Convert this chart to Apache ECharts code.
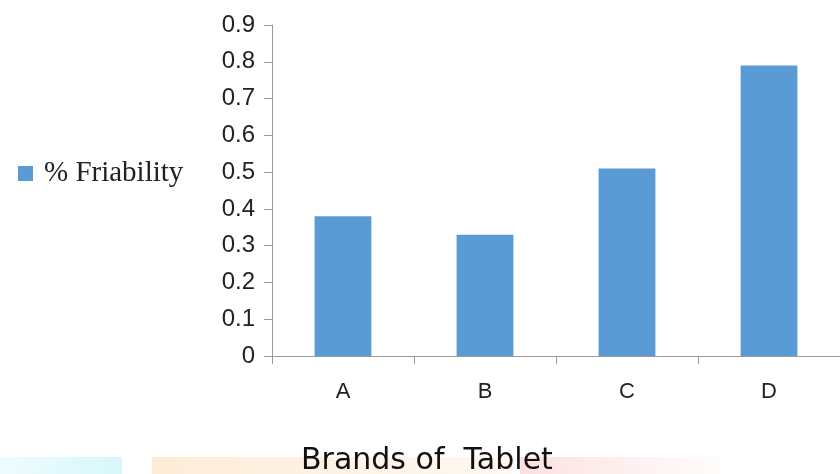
<!DOCTYPE html>
<html>
<head>
<meta charset="utf-8">
<script src="https://cdn.jsdelivr.net/npm/echarts@6/dist/echarts.min.js"></script>
<style>
  html, body { margin: 0; padding: 0; background: #ffffff; }
  #chart { width: 840px; height: 474px; }
</style>
</head>
<body>
<div id="chart"></div>
<script>
// Tablet brands and their measured friability (%)
const brands = ['A', 'B', 'C', 'D'];
const friability = [0.38, 0.33, 0.51, 0.79];
const seriesName = '% Friability';
const axisTitle = 'Brands of  Tablet';

const chart = echarts.init(document.getElementById('chart'), null, { renderer: 'canvas' });

chart.setOption({
  backgroundColor: '#ffffff',
  animation: false,
  legend: {
    orient: 'vertical',
    left: 13,
    top: 154,
    itemWidth: 15,
    itemHeight: 15,
    itemGap: 8,
    icon: 'rect',
    textStyle: { fontFamily: 'Liberation Serif', fontSize: 29, color: '#222', padding: [0, 0, 0, 6] },
    data: [seriesName]
  },
  graphic: [
    // soft coloured bands along the bottom edge
    { type: 'rect', z: -1, shape: { x: 0, y: 457, width: 122, height: 17 },
      style: { fill: { type: 'linear', x: 0, y: 0, x2: 1, y2: 0,
        colorStops: [{ offset: 0, color: 'rgba(120,230,240,0.12)' }, { offset: 1, color: 'rgba(120,230,240,0.3)' }] } } },
    { type: 'rect', z: -1, shape: { x: 152, y: 457, width: 360, height: 17 },
      style: { fill: { type: 'linear', x: 0, y: 0, x2: 1, y2: 0,
        colorStops: [{ offset: 0, color: 'rgba(250,190,120,0.3)' }, { offset: 1, color: 'rgba(250,200,140,0.12)' }] } } },
    { type: 'rect', z: -1, shape: { x: 520, y: 457, width: 200, height: 17 },
      style: { fill: { type: 'linear', x: 0, y: 0, x2: 1, y2: 0,
        colorStops: [{ offset: 0, color: 'rgba(250,150,150,0.3)' }, { offset: 1, color: 'rgba(250,170,170,0.04)' }] } } },
    {
      type: 'text',
      left: 301,
      top: 446,
      style: { text: axisTitle, fontFamily: 'DejaVu Sans', fontSize: 30, fill: '#111' }
    }
  ],
  grid: { left: 272, top: 25, bottom: 118, width: 572, containLabel: false },
  xAxis: {
    type: 'category',
    data: brands,
    boundaryGap: true,
    axisLine: { lineStyle: { color: '#9a9a9a', width: 1 } },
    axisTick: { show: true, alignWithLabel: false, length: 8, lineStyle: { color: '#9a9a9a' } },
    axisLabel: { margin: 25, fontFamily: 'Liberation Sans', fontSize: 22, color: '#222' }
  },
  yAxis: {
    type: 'value',
    min: 0,
    max: 0.9,
    interval: 0.1,
    axisLine: { show: true, lineStyle: { color: '#9a9a9a', width: 1 } },
    axisTick: { show: true, length: 8, lineStyle: { color: '#9a9a9a' } },
    splitLine: { show: false },
    axisLabel: {
      margin: 17,
      fontFamily: 'Liberation Sans',
      fontSize: 24,
      color: '#222',
      formatter: function (v) { return v === 0 ? '0' : v.toFixed(1); }
    }
  },
  series: [{
    name: seriesName,
    type: 'bar',
    data: friability,
    barWidth: '40%',
    itemStyle: { color: '#5b9bd5' }
  }]
});
</script>
</body>
</html>
